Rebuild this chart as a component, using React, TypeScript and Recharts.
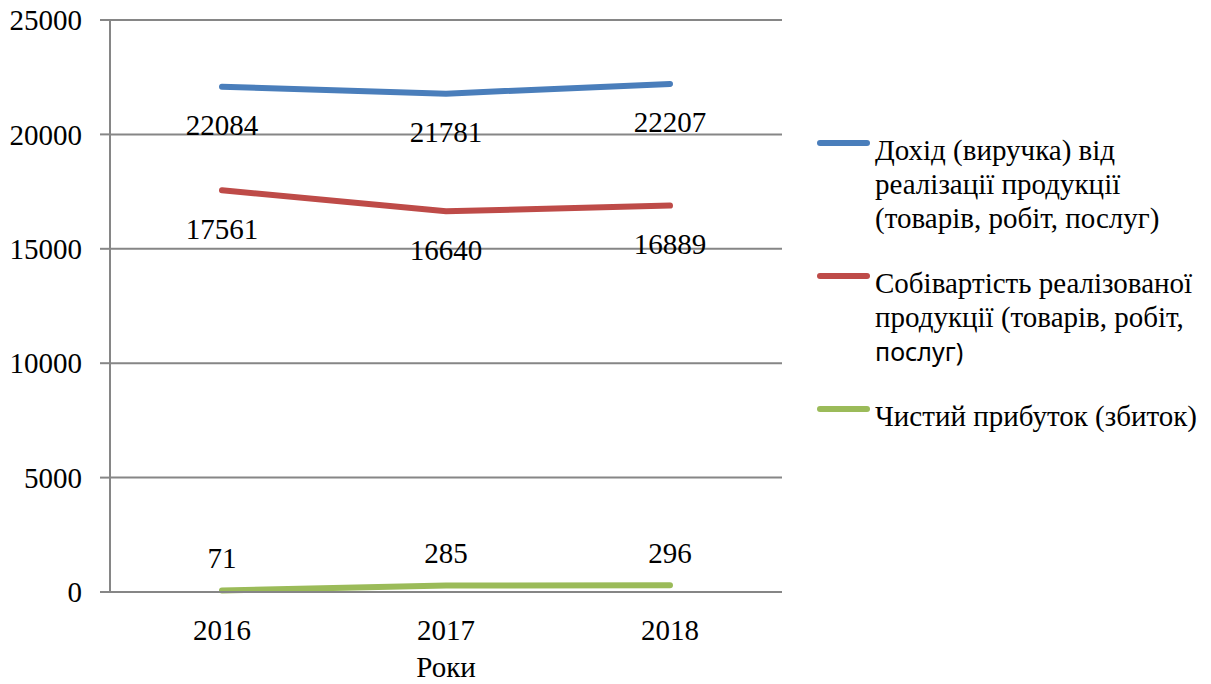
import React from "react";
import { CartesianGrid, LabelList, Legend, Line, LineChart, XAxis, YAxis } from "recharts";

const years = ["2016", "2017", "2018"];
const revenue = [22084, 21781, 22207];
const cost = [17561, 16640, 16889];
const profit = [71, 285, 296];
const yTicks = [0, 5000, 10000, 15000, 20000, 25000];

const revenueName = "Дохід (виручка) від\nреалізації продукції\n(товарів, робіт, послуг)";
const costName = "Собівартість реалізованої\nпродукції (товарів, робіт,\nпослуг)";
const profitName = "Чистий прибуток (збиток)";

// category i sits in the middle of its band [i, i+1]
const data = years.map((year, i) => ({
  pos: i + 0.5,
  year,
  revenue: revenue[i],
  cost: cost[i],
  profit: profit[i],
}));

const edgeTicks = years.map((_, i) => i).concat(years.length);
const centerTicks = data.map((d) => d.pos);

const GRID = "#868686";
const SERIF = '"Liberation Serif", "Times New Roman", serif';
const FS = 29;

function LegendBox(props: any) {
  const items = props.payload || [];
  return (
    <div style={{ fontFamily: SERIF, fontSize: FS, lineHeight: "34px", color: "#000" }}>
      {items.map((item: any, idx: number) => {
        const lines = String(item.value).split("\n");
        return (
          <div key={idx} style={{ position: "relative", paddingLeft: 60, marginBottom: 31, whiteSpace: "nowrap" }}>
            <span
              style={{
                position: "absolute",
                left: 2,
                top: 7,
                width: 53,
                height: 6,
                borderRadius: 3,
                background: item.color,
              }}
            />
            {lines.map((t, j) => (
              <div
                key={j}
                style={
                  // the source chart shows this last line in a sans face
                  t === "послуг)" ? { fontFamily: '"Noto Sans", sans-serif', fontSize: 25 } : undefined
                }
              >
                {t}
              </div>
            ))}
          </div>
        );
      })}
    </div>
  );
}

export default function App() {
  return (
    <div style={{ position: "absolute", left: 0, top: 0, fontFamily: SERIF, background: "#fff" }}>
      <LineChart width={1211} height={684} data={data} margin={{ top: 20, right: 429, bottom: 0, left: 0 }}>
        <CartesianGrid vertical={false} stroke={GRID} strokeWidth={2} />
        <YAxis
          domain={[0, 25000]}
          ticks={yTicks}
          width={110}
          tickSize={10}
          tickMargin={18}
          axisLine={{ stroke: GRID, strokeWidth: 2 }}
          tickLine={{ stroke: GRID, strokeWidth: 2 }}
          tick={{ fill: "#000", fontSize: FS, fontFamily: SERIF }}
        />
        <XAxis
          xAxisId={0}
          type="number"
          dataKey="pos"
          domain={[0, years.length]}
          ticks={edgeTicks}
          height={1}
          tick={false}
          tickSize={8}
          axisLine={{ stroke: GRID, strokeWidth: 2 }}
          tickLine={{ stroke: GRID, strokeWidth: 2 }}
        />
        <XAxis
          xAxisId="cats"
          type="number"
          dataKey="pos"
          domain={[0, years.length]}
          ticks={centerTicks}
          height={91}
          axisLine={false}
          tickLine={false}
          tickSize={0}
          tickMargin={26}
          tickFormatter={(v: number) => years[Math.floor(v)]}
          tick={{ fill: "#000", fontSize: FS, fontFamily: SERIF }}
          label={{ value: "Роки", position: "insideBottom", offset: 7, fill: "#000", fontSize: FS, fontFamily: SERIF }}
        />
        <Legend
          layout="horizontal"
          align="center"
          verticalAlign="middle"
          wrapperStyle={{ left: 815, top: 133, width: 396 }}
          content={LegendBox}
        />
        <Line
          xAxisId="cats"
          name={revenueName}
          dataKey="revenue"
          stroke="#4a7ebb"
          strokeWidth={6}
          strokeLinecap="round"
          dot={false}
          activeDot={false}
          isAnimationActive={false}
        >
          <LabelList dataKey="revenue" position="bottom" offset={28} fill="#000" fontSize={FS} fontFamily={SERIF} />
        </Line>
        <Line
          xAxisId="cats"
          name={costName}
          dataKey="cost"
          stroke="#be4b48"
          strokeWidth={6}
          strokeLinecap="round"
          dot={false}
          activeDot={false}
          isAnimationActive={false}
        >
          <LabelList dataKey="cost" position="bottom" offset={28} fill="#000" fontSize={FS} fontFamily={SERIF} />
        </Line>
        <Line
          xAxisId="cats"
          name={profitName}
          dataKey="profit"
          stroke="#9bbb59"
          strokeWidth={6}
          strokeLinecap="round"
          dot={false}
          activeDot={false}
          isAnimationActive={false}
        >
          <LabelList dataKey="profit" position="top" offset={22} fill="#000" fontSize={FS} fontFamily={SERIF} />
        </Line>
      </LineChart>
    </div>
  );
}
